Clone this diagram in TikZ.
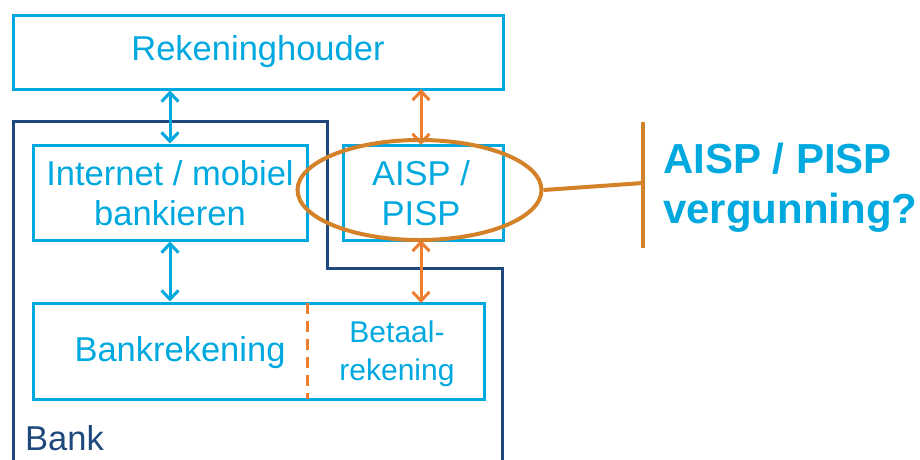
\documentclass[tikz,border=0pt]{standalone}
\usepackage{fontspec}
\setmainfont{Liberation Sans}
\usetikzlibrary{arrows.meta,shapes.geometric}
\definecolor{lblue}{HTML}{00A8E0}
\definecolor{dblue}{HTML}{1F497D}
\definecolor{aorange}{HTML}{ED7D31}
\definecolor{eorange}{HTML}{D4822A}
\tikzset{
  box/.style={draw=lblue, line width=3pt, rectangle, inner sep=0pt, text=lblue},
  txt/.style={text=lblue, align=center, font=\fontsize{34.5}{40}\selectfont, inner sep=0pt},
  barr/.style={line width=3pt, {Straight Barb[length=9pt,width=17pt]}-{Straight Barb[length=9pt,width=17pt]}},
}
\begin{document}
\begin{tikzpicture}[x=1pt,y=-1pt]
\useasboundingbox (0,0) rectangle (920,459);
% bank outline
\draw[dblue, line width=3pt] (13,470) -- (13,121) -- (327,121) -- (327,268) -- (502,268) -- (502,470);
\node[text=dblue, anchor=west, font=\fontsize{34.5}{40}\selectfont, inner sep=0pt] (bank) at (25,438) {Bank};
% boxes
\node[box, minimum width=490pt, minimum height=74pt] (rek) at (258,52) {};
\node[txt] (rekt) at (258,52) {Rekeninghouder};
\node[box, minimum width=274pt, minimum height=95pt] (inet) at (170,192.5) {};
\node[txt] (inett) at (170,193) {Internet / mobiel\\bankieren};
\node[box, minimum width=160pt, minimum height=95pt] (aisp) at (423,192.5) {};
\node[txt] (aispt) at (421,193) {AISP /\\PISP};
\node[box, minimum width=451pt, minimum height=96pt] (bankr) at (258.5,351) {};
\node[txt] (bankrt) at (180,353) {Bankrekening};
\node[txt, font=\fontsize{30}{38}\selectfont] (betaal) at (397,354) {Betaal-\\rekening};
% dashed separator
\coordinate (dT) at (307,303);
\coordinate (dB) at (307,399);
\draw[aorange, line width=3pt, dash pattern=on 11pt off 7pt] (dT) -- (dB);
% arrows
\draw[barr, lblue] (rek.south -| inet.north) -- (inet.north);
\draw[barr, lblue] (inet.south) -- (bankr.north -| inet.south);
\coordinate (oa) at (421,89);
\coordinate (ob) at (421,145);
\coordinate (oc) at (421,240);
\coordinate (od) at (421,303);
\draw[barr, aorange] (oa) -- (ob);
\draw[barr, aorange] (oc) -- (od);
% ellipse and callout
\node[draw=eorange, line width=4pt, ellipse, minimum width=244pt, minimum height=100pt, inner sep=0pt] (ell) at (419.5,190) {};
\coordinate (barT) at (643,122);
\coordinate (barB) at (643,248);
\coordinate (barM) at (643,183);
\draw[eorange, line width=4pt] (ell.east) -- (barM);
\draw[eorange, line width=4pt] (barT) -- (barB);
\node[text=lblue, anchor=west, align=left, inner sep=0pt, font=\bfseries\fontsize{42}{50}\selectfont] (lic) at (663,188) {AISP / PISP\\vergunning?};
\end{tikzpicture}
\end{document}
